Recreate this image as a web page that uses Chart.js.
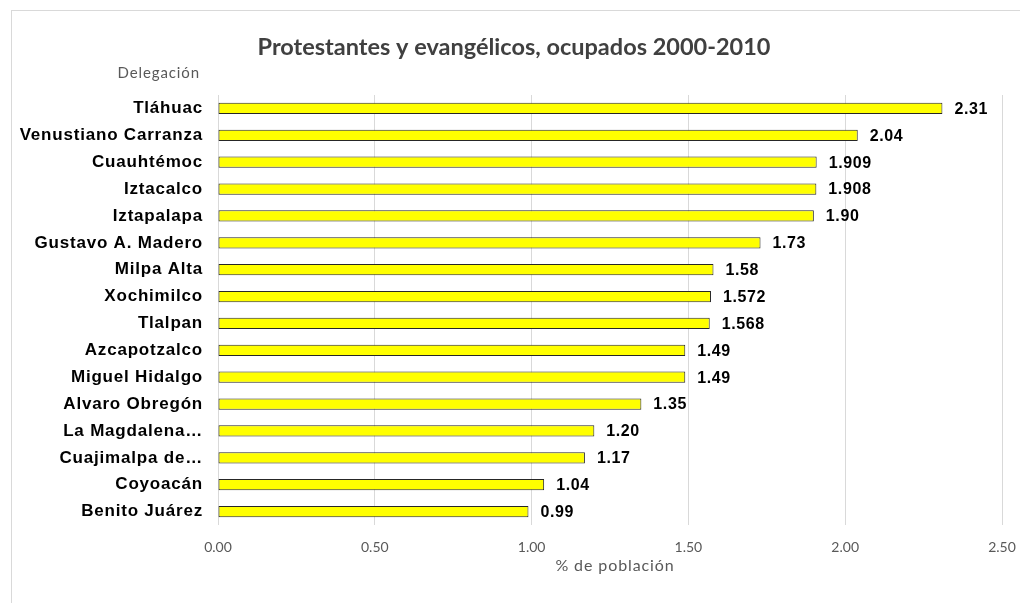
<!DOCTYPE html>
<html>
<head>
<meta charset="utf-8">
<script src="https://cdn.jsdelivr.net/npm/chart.js@4.4.1/dist/chart.umd.min.js"></script>
<style>
  html, body { margin: 0; padding: 0; background: #fff; overflow: hidden; }
  #marco { position: absolute; left: 11px; top: 10px; width: 1100px; height: 700px; border: 1px solid #d9d9d9; }
  #grafica { position: absolute; left: 0; top: 0; }
</style>
</head>
<body>
<div id="marco"></div>
<canvas id="grafica" width="1020" height="603"></canvas>
<script>
// Datos
const titulo = 'Protestantes y evangélicos, ocupados 2000-2010';
const delegaciones = [
  'Tláhuac', 'Venustiano Carranza', 'Cuauhtémoc', 'Iztacalco', 'Iztapalapa',
  'Gustavo A. Madero', 'Milpa Alta', 'Xochimilco', 'Tlalpan', 'Azcapotzalco',
  'Miguel Hidalgo', 'Alvaro Obregón', 'La Magdalena…', 'Cuajimalpa de…',
  'Coyoacán', 'Benito Juárez'
];
const porcentajes = [2.31, 2.04, 1.909, 1.908, 1.90, 1.73, 1.58, 1.572, 1.568, 1.49, 1.49, 1.35, 1.20, 1.17, 1.04, 0.99];
const etiquetasValor = ['2.31', '2.04', '1.909', '1.908', '1.90', '1.73', '1.58', '1.572', '1.568', '1.49', '1.49', '1.35', '1.20', '1.17', '1.04', '0.99'];
const ticksX = [0, 0.5, 1, 1.5, 2, 2.5];

// Etiquetas de valor, título y títulos de ejes (con espaciado de letras, como en Excel)
const etiquetasPlugin = {
  id: 'etiquetas',
  afterDatasetsDraw(chart) {
    const ctx = chart.ctx;
    const area = chart.chartArea;
    const meta = chart.getDatasetMeta(0);
    ctx.save();
    ctx.letterSpacing = '0.6px';
    ctx.font = 'bold 16px "Liberation Sans", Arial, sans-serif';
    ctx.fillStyle = '#000';
    ctx.textAlign = 'left';
    ctx.textBaseline = 'middle';
    meta.data.forEach((bar, i) => {
      ctx.fillText(etiquetasValor[i], bar.x + 12, bar.y + 1);
    });
    // título del gráfico
    ctx.letterSpacing = '0px';
    ctx.fillStyle = '#404040';
    ctx.font = 'bold 23.5px Lato, sans-serif';
    ctx.textAlign = 'center';
    ctx.fillText(titulo, 514, area.top - 48);
    // títulos de los ejes
    ctx.letterSpacing = '0.9px';
    ctx.fillStyle = '#595959';
    ctx.font = '15px Lato, sans-serif';
    ctx.textAlign = 'right';
    ctx.fillText('Delegación', area.left - 18, area.top - 22);
    ctx.font = '16px Lato, sans-serif';
    ctx.textAlign = 'center';
    ctx.fillText('% de población', (area.left + area.right) / 2 + 5, area.bottom + 41);
    ctx.restore();
    // las etiquetas del eje Y se dibujan después (z: 1) con este espaciado
    ctx.letterSpacing = '0.8px';
  },
  afterDraw(chart) {
    chart.ctx.letterSpacing = '0px';
  }
};

const ctx = document.getElementById('grafica').getContext('2d');
const grafica = new Chart(ctx, {
  type: 'bar',
  data: {
    labels: delegaciones,
    datasets: [{
      data: porcentajes,
      backgroundColor: '#ffff00',
      borderColor: '#262626',
      borderWidth: 1,
      borderSkipped: false,
      barPercentage: 0.42,
      categoryPercentage: 1
    }]
  },
  options: {
    indexAxis: 'y',
    responsive: false,
    animation: false,
    devicePixelRatio: 1,
    layout: { padding: { left: 10, right: 18, top: 95, bottom: 24 } },
    plugins: {
      legend: { display: false },
      tooltip: { enabled: false },
      title: { display: false }
    },
    scales: {
      x: {
        min: 0,
        max: 2.5,
        afterBuildTicks(scale) { scale.ticks = ticksX.map(v => ({ value: v })); },
        afterFit(scale) {
          scale.height = 54;
          scale.paddingLeft = 0;
          scale.paddingRight = 0;
        },
        grid: { color: '#d9d9d9', drawTicks: false },
        border: { display: false },
        ticks: {
          padding: 14,
          color: '#595959',
          font: { family: 'Lato', size: 14 },
          callback: v => Number(v).toFixed(2)
        }
      },
      y: {
        grid: { display: false },
        border: { display: false },
        afterFit(scale) { scale.width = 208; },
        ticks: {
          z: 1,
          padding: 7,
          color: '#000',
          font: { family: '"Liberation Sans", Arial, sans-serif', size: 17, weight: 'bold' }
        }
      }
    }
  },
  plugins: [etiquetasPlugin]
});
</script>
</body>
</html>
